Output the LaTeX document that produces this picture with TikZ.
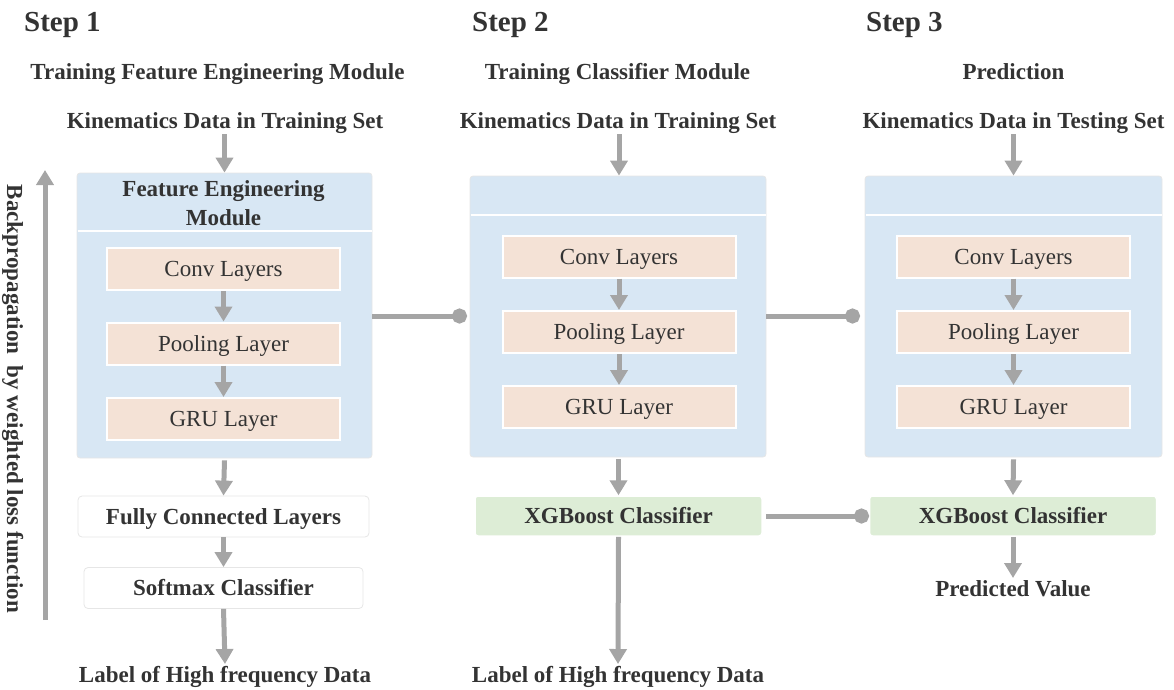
\documentclass[tikz,border=0pt]{standalone}
\usepackage{fontspec}
\setmainfont{Liberation Serif}
\usetikzlibrary{arrows.meta,positioning}
\definecolor{modblue}{HTML}{D8E7F4}
\definecolor{peach}{HTML}{F4E2D6}
\definecolor{xgreen}{HTML}{DDEDD6}
\definecolor{arrgray}{HTML}{A5A5A5}
\definecolor{txt}{HTML}{333333}
\definecolor{edge}{HTML}{E6E6E6}
\tikzset{
  ctext/.style={text height=15.6pt, text depth=0pt},
  steplbl/.style={font=\fontsize{29}{33}\selectfont\bfseries, text=txt, anchor=west, inner sep=0pt,
     text height=19.7pt, text depth=0pt},
  lbl/.style={font=\fontsize{23}{27}\selectfont\bfseries, text=txt, inner sep=0pt, align=center, ctext},
  hdr/.style={font=\fontsize{23}{27}\selectfont\bfseries, text=txt, inner sep=0pt, align=center},
  module/.style={fill=modblue, draw=edge, line width=0.8pt, rounded corners=3pt, inner sep=0pt},
  layerbox/.style={fill=peach, draw=white, line width=2pt, minimum width=233pt, minimum height=42pt,
     font=\fontsize{23}{27}\selectfont, text=txt, inner sep=0pt, ctext},
  whitebox/.style={fill=white, draw=edge, line width=0.8pt, rounded corners=4pt, minimum height=41pt,
     font=\fontsize{23}{27}\selectfont\bfseries, text=txt, inner sep=0pt, ctext},
  xgbox/.style={fill=xgreen, draw=white, line width=1.5pt, rounded corners=3pt, minimum width=287pt, minimum height=40pt,
     font=\fontsize{23}{27}\selectfont\bfseries, text=txt, inner sep=0pt, ctext},
  arr/.style={draw=arrgray, line width=5pt, -{Triangle[width=17pt,length=15pt]}},
  dotline/.style={draw=arrgray, line width=5pt, -{Circle[length=15pt]}},
}
\begin{document}
\begin{tikzpicture}[x=1pt,y=-1pt]
\useasboundingbox (0,0) rectangle (1174,689);

% step headings
\node[steplbl] (s1) at (24,22) {Step 1};
\node[steplbl] (s2) at (472,22) {Step 2};
\node[steplbl] (s3) at (866,22) {Step 3};
\node[lbl] (t1) at (217.5,72) {Training Feature Engineering Module};
\node[lbl] (t2) at (617.5,72) {Training Classifier Module};
\node[lbl] (t3) at (1013.5,72) {Prediction};

% input labels
\node[lbl] (k1) at (225,121) {Kinematics Data in Training Set};
\node[lbl] (k2) at (618,121) {Kinematics Data in Training Set};
\node[lbl] (k3) at (1013.5,121) {Kinematics Data in Testing Set};

% modules
\node[module, minimum width=295pt, minimum height=285pt] (m1) at (224.5,315.5) {};
\node[module, minimum width=296pt, minimum height=281pt] (m2) at (618,316.5) {};
\node[module, minimum width=297pt, minimum height=281pt] (m3) at (1013.5,316.5) {};
\draw[white, line width=2pt] (77.5,231) -- (371.5,231);
\draw[white, line width=2pt] (470.5,215) -- (765.5,215);
\draw[white, line width=2pt] (865.5,215) -- (1161.5,215);
\node[hdr] (h1) at (223.5,203) {Feature Engineering\\[2pt]Module};

% inner layers
\node[layerbox] (c1) at (223.5,269) {Conv Layers};
\node[layerbox] (p1) at (223.5,343.5) {Pooling Layer};
\node[layerbox] (g1) at (223.5,419) {GRU Layer};
\node[layerbox] (c2) at (619,256.5) {Conv Layers};
\node[layerbox] (p2) at (619,332) {Pooling Layer};
\node[layerbox] (g2) at (619,407) {GRU Layer};
\node[layerbox] (c3) at (1013.5,256.5) {Conv Layers};
\node[layerbox] (p3) at (1013.5,332) {Pooling Layer};
\node[layerbox] (g3) at (1013.5,407) {GRU Layer};

% lower boxes
\node[whitebox, minimum width=291pt] (fc) at (223.5,516.5) {Fully Connected Layers};
\node[whitebox, minimum width=279pt] (sm) at (223.5,588) {Softmax Classifier};
\node[xgbox] (x2) at (618.5,516) {XGBoost Classifier};
\node[xgbox] (x3) at (1013,516) {XGBoost Classifier};

% outputs
\node[lbl] (o1) at (225,675) {Label of High frequency Data};
\node[lbl] (o2) at (618,675) {Label of High frequency Data};
\node[lbl] (o3) at (1013,589) {Predicted Value};

% arrows
\draw[arr] ([yshift=-5pt]k1.south -| m1.north) -- (m1.north);
\draw[arr] ([yshift=-5pt]k2.south -| c2.north) -- (c2.north |- m2.north);
\draw[arr] ([yshift=-5pt]k3.south -| m3.north) -- (m3.north);
\draw[arr] (c1) ++(0,22) -- (p1.north);
\draw[arr] (p1) ++(0,22) -- (g1.north);
\draw[arr] (c2) ++(0,22) -- (p2.north);
\draw[arr] (p2) ++(0,22) -- (g2.north);
\draw[arr] (c3) ++(0,22) -- (p3.north);
\draw[arr] (p3) ++(0,22) -- (g3.north);
\draw[arr] ([yshift=-2pt]m1.south) -- (fc.north);
\draw[arr] (fc.south) -- (sm.north);
\draw[arr] (sm.south) -- ([yshift=3pt]o1.north);
\draw[arr] ([yshift=-2pt]m2.south -| x2.north) -- (x2.north);
\draw[arr] (x2.south) -- ([yshift=3pt]o2.north);
\draw[arr] ([yshift=-2pt]m3.south) -- (x3.north);
\draw[arr] (x3.south) -- ([yshift=3pt]o3.north);

% connectors with dots
\coordinate (d1) at (467,316);
\coordinate (d2) at (860,316);
\coordinate (d3) at (869,516);
\draw[dotline] (m1.east |- d1) -- (d1);
\draw[dotline] (m2.east |- d2) -- (d2);
\draw[dotline] ([xshift=3pt]x2.east) -- (d3);

% backpropagation
\coordinate (bpA) at (45,620);
\coordinate (bpB) at (45,170);
\draw[arr] (bpA) -- (bpB);
\node[lbl, rotate=-90] (bp) at (15,399) {Backpropagation\ \ by weighted loss function};
\end{tikzpicture}
\end{document}
